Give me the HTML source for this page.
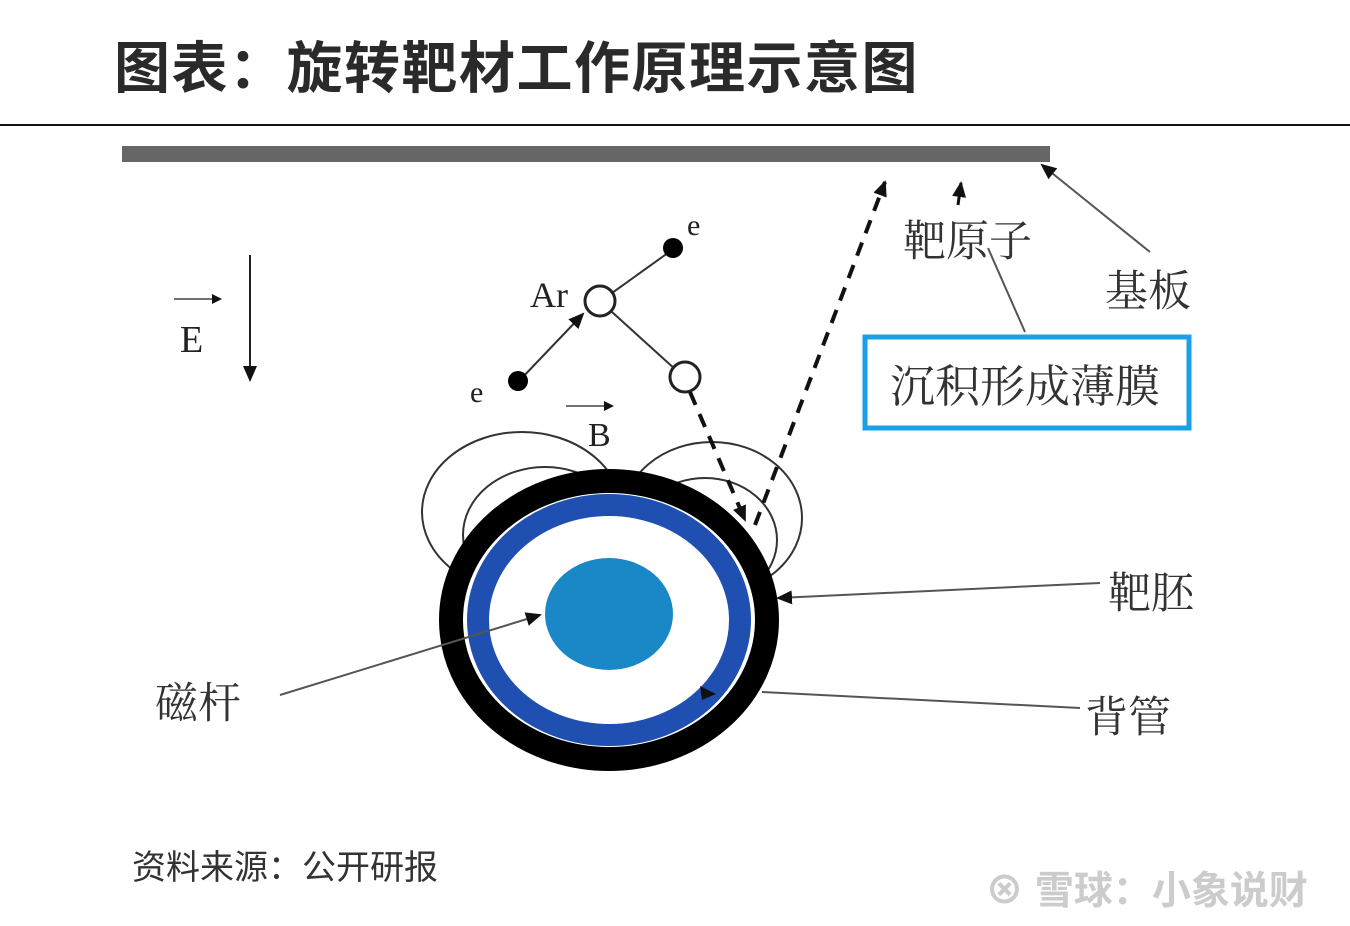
<!DOCTYPE html>
<html><head><meta charset="utf-8"><style>
html,body{margin:0;padding:0;background:#fff;}
body{width:1350px;height:926px;overflow:hidden;position:relative;font-family:"Liberation Sans","Noto Sans CJK SC",sans-serif;}
.t{position:absolute;white-space:nowrap;}
.s{font-size:43px;color:#333;font-family:'Liberation Serif','Noto Serif CJK SC',serif;}
</style></head><body>
<div class="t" style="left:114px;top:24px;font-size:56px;font-weight:bold;color:#2a2a2a;letter-spacing:1.5px;">图表：旋转靶材工作原理示意图</div>
<svg width="1350" height="926" style="position:absolute;left:0;top:0">
<defs><marker id="a" markerWidth="10" markerHeight="10" refX="8" refY="5" orient="auto" markerUnits="userSpaceOnUse"><path d="M0,0 L10,5 L0,10z" fill="#111"/></marker>
<marker id="b" markerWidth="16" markerHeight="14" refX="14" refY="7" orient="auto" markerUnits="userSpaceOnUse"><path d="M0,0 L16,7 L0,14z" fill="#111"/></marker></defs>
<line x1="0" y1="125" x2="1350" y2="125" stroke="#111" stroke-width="2"/>
<rect x="122" y="146" width="928" height="16" fill="#666"/>
<line x1="250" y1="255" x2="250" y2="380" stroke="#222" stroke-width="2" marker-end="url(#b)"/>
<line x1="174" y1="299" x2="220" y2="299" stroke="#444" stroke-width="1.5" marker-end="url(#a)"/>
<text x="180" y="352" font-family="Liberation Serif" font-size="38" fill="#222">E</text>
<g fill="none" stroke="#333" stroke-width="2">
<ellipse cx="522" cy="512" rx="100" ry="80"/>
<ellipse cx="545" cy="535" rx="82" ry="68"/>
<ellipse cx="712" cy="518" rx="90" ry="76"/>
<ellipse cx="705" cy="540" rx="72" ry="62"/>
</g>
<ellipse cx="609" cy="620" rx="158" ry="139" fill="#fff" stroke="#000" stroke-width="24"/>
<ellipse cx="609" cy="620" rx="131" ry="115" fill="#fff" stroke="#1f4fb0" stroke-width="22"/>
<ellipse cx="609" cy="614" rx="64" ry="56" fill="#1a88c6"/>
<g stroke="#333" stroke-width="2" fill="none">
<line x1="520" y1="380" x2="583" y2="314" marker-end="url(#b)"/>
<line x1="612" y1="293" x2="672" y2="250"/>
<line x1="612" y1="312" x2="676" y2="370"/>
</g>
<circle cx="518" cy="381" r="10" fill="#000"/>
<circle cx="673" cy="248" r="10" fill="#000"/>
<circle cx="600" cy="301" r="15" fill="#fff" stroke="#222" stroke-width="3"/>
<circle cx="685" cy="377" r="15" fill="#fff" stroke="#222" stroke-width="3"/>
<text x="530" y="307" font-family="Liberation Serif" font-size="36" fill="#222">Ar</text>
<text x="687" y="235" font-family="Liberation Serif" font-size="30" fill="#222">e</text>
<text x="470" y="402" font-family="Liberation Serif" font-size="30" fill="#222">e</text>
<line x1="566" y1="406" x2="612" y2="406" stroke="#444" stroke-width="1.5" marker-end="url(#a)"/>
<text x="588" y="446" font-family="Liberation Serif" font-size="34" fill="#222">B</text>
<line x1="690" y1="392" x2="745" y2="520" stroke="#111" stroke-width="4" stroke-dasharray="14,10" marker-end="url(#b)"/>
<line x1="755" y1="525" x2="885" y2="182" stroke="#111" stroke-width="4" stroke-dasharray="14,10" marker-end="url(#b)"/>
<line x1="958" y1="205" x2="961" y2="183" stroke="#111" stroke-width="3" marker-end="url(#b)"/>
<g stroke="#555" stroke-width="2" fill="none">
<line x1="1150" y1="252" x2="1042" y2="165" marker-end="url(#b)"/>
<line x1="988" y1="248" x2="1025" y2="332"/>
<line x1="1100" y1="583" x2="778" y2="598" marker-end="url(#b)"/>
<line x1="1080" y1="708" x2="762" y2="692"/>
<line x1="280" y1="695" x2="540" y2="615" marker-end="url(#b)"/>
</g>
<path d="M700,686 L716,694 L702,700z" fill="#111"/>
<rect x="865" y="337" width="324" height="91" fill="#fff" stroke="#1aa0e6" stroke-width="5"/>
</svg>
<div class="t s" style="left:903px;top:208px;">靶原子</div>
<div class="t s" style="left:1105px;top:258px;">基板</div>
<div class="t s" style="left:890px;top:350px;font-size:45px;">沉积形成薄膜</div>
<div class="t s" style="left:1108px;top:560px;">靶胚</div>
<div class="t s" style="left:1085px;top:684px;">背管</div>
<div class="t s" style="left:155px;top:670px;">磁杆</div>
<div class="t" style="left:132px;top:840px;font-size:34px;color:#333;">资料来源：公开研报</div>
<div class="t" style="left:985px;top:860px;font-size:39px;color:#ccc;font-weight:bold;">⊗ 雪球：小象说财</div>
</body></html>
